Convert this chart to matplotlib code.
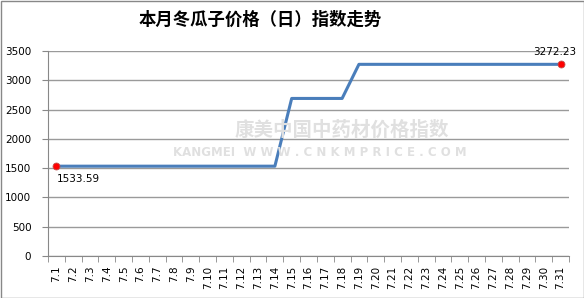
import matplotlib
matplotlib.use("Agg")
import matplotlib.pyplot as plt
from matplotlib.patches import Rectangle

plt.rcParams['font.family'] = ['Noto Sans CJK SC', 'DejaVu Sans']

days = [f"7.{d}" for d in range(1, 32)]
values = [1533.59] * 14 + [2690.0] * 4 + [3272.23] * 13
title = "本月冬瓜子价格（日）指数走势"
yticks = [0, 500, 1000, 1500, 2000, 2500, 3000, 3500]

fig = plt.figure(figsize=(5.84, 2.98), dpi=100)
ax = fig.add_axes([48/584, 1-256/298, (569-48)/584, (256-51)/298])

x = list(range(len(days)))
ax.plot(x, values, color='#4a7ebb', lw=2.2, zorder=3)
ax.plot([x[0], x[-1]], [values[0], values[-1]], 'o', color='#ff0000',
        ms=5, mec='#c0504d', mew=0.6, zorder=4)
ax.annotate(f"{values[0]:.2f}", (x[0], values[0]), xytext=(0, -9),
            textcoords='offset points', fontsize=7.5, ha='left', va='center',
            family='DejaVu Sans')
ax.annotate(f"{values[-1]:.2f}", (x[-1], values[-1]), xytext=(11, 9),
            textcoords='offset points', fontsize=7.5, ha='right', va='center',
            family='DejaVu Sans')

ax.set_xlim(-0.5, len(days) - 0.5)
ax.set_ylim(0, 3500)
ax.set_yticks(yticks)
ax.set_yticklabels([str(v) for v in yticks], fontsize=7.5, family='DejaVu Sans')
ax.set_xticks(x)
ax.set_xticklabels(days, rotation=90, fontsize=7.5, family='DejaVu Sans')
ax.set_xticks([i - 0.5 for i in range(len(days) + 1)], minor=True)
ax.tick_params(axis='x', which='major', length=0, pad=7)
ax.tick_params(axis='x', which='minor', length=4, color='#888888', direction='out')
ax.tick_params(axis='y', length=4, color='#888888', pad=8)
ax.grid(axis='y', color='#9a9a9a', lw=1)
ax.set_axisbelow(True)
for s in ['top', 'right']:
    ax.spines[s].set_visible(False)
for s in ['left', 'bottom']:
    ax.spines[s].set_color('#888888')

fig.text(260/584, 1-20/298, title, ha='center', va='center', fontsize=12.5,
         fontweight='bold')

# watermark
fig.text(342/584, 1-130/298, "康美中国中药材价格指数", ha='center', va='center',
         fontsize=14, fontweight='bold', color='#e0e0e0', zorder=1)
fig.text(320/584, 1-153/298, "KANGMEI  W W W . C N K M P R I C E . C O M", ha='center',
         va='center', fontsize=8.5, fontweight='bold', color='#e0e0e0',
         family='DejaVu Sans', zorder=1)

fig.patches.append(Rectangle((0.5/584, 0.5/298), 583/584, 297/298, transform=fig.transFigure,
                             fill=False, edgecolor='#888888', lw=1))

fig.savefig("out.png", dpi=100)
